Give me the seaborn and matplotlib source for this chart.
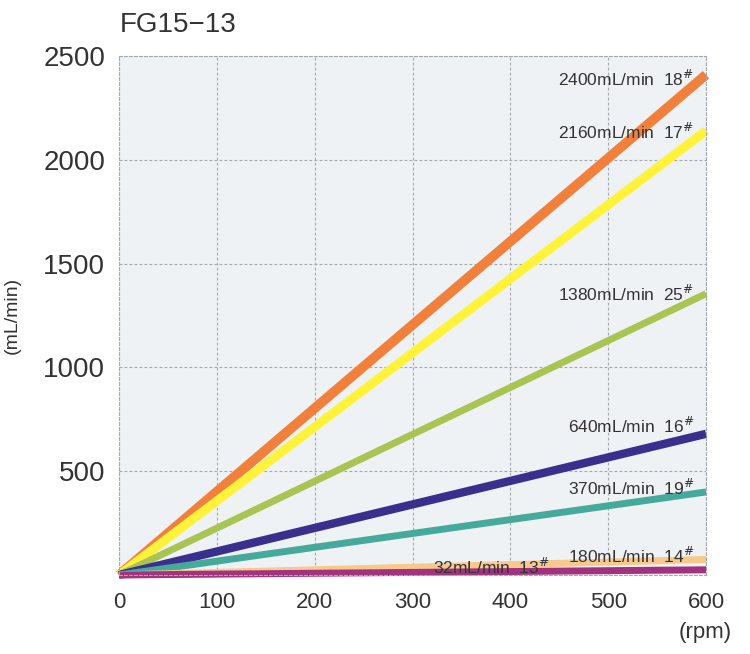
import matplotlib
matplotlib.use("Agg")
import matplotlib.pyplot as plt
import seaborn as sns
import pandas as pd

sns.set_theme(style="white")
plt.rcParams['font.family'] = ['Liberation Sans', 'DejaVu Sans']

title = "FG15\u221213"
rpm = [0, 600]
series_names = ["18#", "17#", "25#", "16#", "19#", "14#", "13#"]
series_end = [2410, 2140, 1355, 680, 400, 75, 25]
series_start = [0, 0, 0, 0, 0, 0, 0]
label_texts = ["2400mL/min  18", "2160mL/min  17", "1380mL/min  25", "640mL/min  16",
               "370mL/min  19", "180mL/min  14", "32mL/min  13"]
label_x = [588, 588, 588, 588, 588, 588, 440]
label_y = [2390, 2135, 1356, 718, 420, 90, 38]
colors = ["#F2803D", "#FFF23A", "#A9C453", "#3B2F8E", "#45A99C", "#F7C98C", "#A2327F"]
widths = [7, 6.5, 5, 6, 5, 5, 5]
x_ticks = [0, 100, 200, 300, 400, 500, 600]
y_ticks = [500, 1000, 1500, 2000, 2500]

rows = []
for name, s, e in zip(series_names, series_start, series_end):
    rows.append({"rpm": rpm[0], "flow": s, "tube": name})
    rows.append({"rpm": rpm[1], "flow": e, "tube": name})
df = pd.DataFrame(rows)

fig = plt.figure(figsize=(7.5, 6.54), dpi=100)
ax = fig.add_axes([0.1587, 0.1208, 0.7827, 0.7936])
ax.set_facecolor("#EFF2F4")

for name, c, w in zip(series_names, colors, widths):
    sns.lineplot(data=df[df["tube"] == name], x="rpm", y="flow", color=c,
                 linewidth=w, ax=ax, legend=False, solid_capstyle="butt")
for ln in ax.lines:
    ln.set_clip_on(False)

ax.set_xlim(0, 600)
ax.set_ylim(0, 2500)
ax.set_xticks(x_ticks)
ax.set_yticks(y_ticks)
ax.grid(True, linestyle=(0, (2.5, 2)), color="#A4A9AE", linewidth=0.8)
ax.set_axisbelow(True)
for sp in ax.spines.values():
    sp.set_linestyle((0, (2.5, 2)))
    sp.set_color("#A4A9AE")
    sp.set_linewidth(0.8)
ax.tick_params(axis='y', labelsize=20, length=0, pad=10, labelcolor="#333333")
ax.tick_params(axis='x', labelsize=16, length=0, pad=12, labelcolor="#333333")
ax.set_xlabel("")
ax.set_ylabel("(mL/min)", fontsize=14, color="#333333")
ax.yaxis.set_label_coords(-0.168, 0.5)

for t, lx, ly in zip(label_texts, label_x, label_y):
    ax.text(lx, ly, t + r"$^{\#}$", ha="right", va="center", fontsize=12.5, color="#333333")

fig.text(0.159, 0.962, title, fontsize=20, color="#333333", ha="left", va="center")
fig.text(0.94, 0.033, "(rpm)", fontsize=16, color="#333333", ha="center", va="center")

fig.savefig("out.png", dpi=100)
